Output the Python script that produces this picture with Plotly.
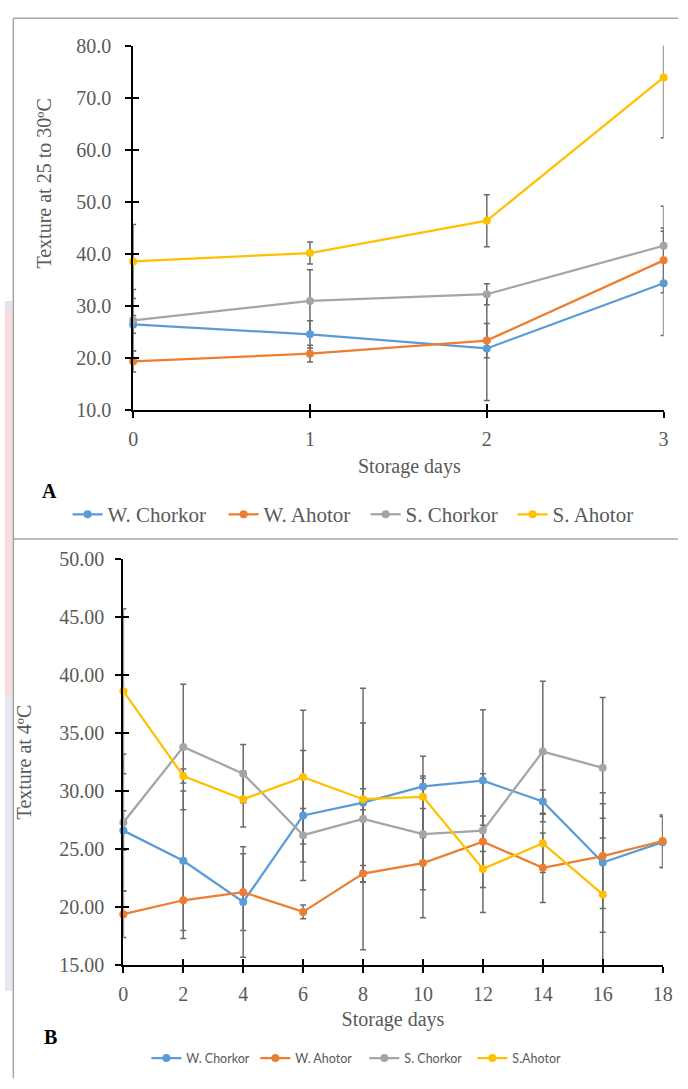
import plotly.graph_objects as go

W, H = 688, 1089

# ---------------- data ----------------
days_a = [0, 1, 2, 3]
names_a = ["W. Chorkor", "W. Ahotor", "S. Chorkor", "S. Ahotor"]
w_chorkor_a = [26.5, 24.6, 21.9, 34.4]
w_chorkor_a_err = [1.7, 2.6, 10.0, 10.0]
w_ahotor_a = [19.4, 20.9, 23.4, 38.8]
w_ahotor_a_err = [2.0, 1.6, 3.3, 6.2]
s_chorkor_a = [27.3, 31.0, 32.3, 41.6]
s_chorkor_a_err = [5.9, 6.0, 2.0, 7.6]
s_ahotor_a = [38.6, 40.2, 46.4, 73.9]
s_ahotor_a_err = [7.1, 2.1, 5.0, 11.6]

days_b = [0, 2, 4, 6, 8, 10, 12, 14, 16, 18]
names_b = ["W. Chorkor", "W. Ahotor", "S. Chorkor", "S.Ahotor"]
w_chorkor_b = [26.6, 24.0, 20.45, 27.9, 29.0, 30.4, 30.9, 29.1, 23.85, 25.6]
w_chorkor_b_err = [1.7, 6.0, 4.75, 5.6, 6.85, 0.9, 6.1, 1.0, 6.0, 2.2]
w_ahotor_b = [19.4, 20.6, 21.3, 19.6, 22.9, 23.8, 25.65, 23.4, 24.4, 25.7]
w_ahotor_b_err = [2.0, 3.3, 3.3, 0.6, 0.7, 4.7, 2.2, 3.0, 4.5, 2.25]
s_chorkor_b = [27.3, 33.8, 31.5, 26.2, 27.6, 26.3, 26.6, 33.4, 32.0]
s_chorkor_b_err = [5.9, 5.4, 2.5, 2.3, 11.25, 4.8, 4.9, 6.05, 6.05]
s_ahotor_b = [38.6, 31.3, 29.3, 31.2, 29.3, 29.5, 23.3, 25.5, 21.1]
s_ahotor_b_err = [7.1, 0.6, 2.4, 5.75, 0.9, 3.5, 3.75, 2.5, 6.55]

colors = ["#5B9BD5", "#ED7D31", "#A5A5A5", "#FFC000"]

yticks_a = [10, 20, 30, 40, 50, 60, 70, 80]
yticks_b = [15, 20, 25, 30, 35, 40, 45, 50]

# legend entry widths (px) so the entries spread like the original
legend_w_a = [111, 97, 102, 90]
legend_w_b = [64, 64, 63, 50]

# ---------------- helpers ----------------
def fx(p):
    return p / W

def fy(p):
    return 1 - p / H

SERIF = "Liberation Serif"
GRAY_TXT = "#595959"
ERR_COL = "#6a6a6a"
TITLE_FONT = dict(family=SERIF, size=20, color=GRAY_TXT)

fig = go.Figure()

panel_a = list(zip(names_a,
                   [w_chorkor_a, w_ahotor_a, s_chorkor_a, s_ahotor_a],
                   [w_chorkor_a_err, w_ahotor_a_err, s_chorkor_a_err, s_ahotor_a_err],
                   colors, legend_w_a))
panel_b = list(zip(names_b,
                   [w_chorkor_b, w_ahotor_b, s_chorkor_b, s_ahotor_b],
                   [w_chorkor_b_err, w_ahotor_b_err, s_chorkor_b_err, s_ahotor_b_err],
                   colors, legend_w_b))

# error bars (clipped to the plot area) on the main axes
for days, panel, xa, ya in [(days_a, panel_a, "x", "y"), (days_b, panel_b, "x2", "y2")]:
    for name, vals, errs, col, lw in panel:
        fig.add_trace(go.Scatter(
            x=days[:len(vals)], y=vals, mode="markers",
            marker=dict(size=2, color=col, opacity=0),
            error_y=dict(type="data", array=errs, visible=True, color=ERR_COL,
                         thickness=1.5, width=3),
            xaxis=xa, yaxis=ya, showlegend=False, hoverinfo="skip", cliponaxis=True))

# lines + markers on overlay axes (not clipped)
for days, panel, xa, ya, lg in [(days_a, panel_a, "x3", "y3", "legend"),
                                (days_b, panel_b, "x4", "y4", "legend2")]:
    for name, vals, errs, col, lw in panel:
        fig.add_trace(go.Scatter(
            x=days[:len(vals)], y=vals, mode="lines+markers", name=name,
            line=dict(color=col, width=2.25),
            marker=dict(color=col, size=8),
            xaxis=xa, yaxis=ya, legend=lg, legendwidth=lw, cliponaxis=False))

axis_common = dict(showgrid=False, zeroline=False, showline=True, linecolor="black",
                   linewidth=2, ticks="outside", ticklen=6, tickwidth=2, tickcolor="black",
                   tickfont=dict(family=SERIF, size=20, color=GRAY_TXT))
inside_common = dict(showgrid=False, zeroline=False, showline=False, ticks="inside",
                     ticklen=6, tickwidth=2, tickcolor="black", showticklabels=False)

xa_dom = [fx(131), fx(673.3)]
ya_dom = [fy(407.7), fy(35.3)]
xb_dom = [fx(121), fx(672.3)]
yb_dom = [fy(974), fy(559)]

fig.update_layout(
    width=W, height=H, margin=dict(l=0, r=0, t=0, b=0),
    paper_bgcolor="white", plot_bgcolor="rgba(0,0,0,0)",
    xaxis=dict(axis_common, domain=xa_dom, anchor="y", range=[0, 3],
               tickvals=days_a, ticklabelstandoff=4),
    yaxis=dict(axis_common, domain=ya_dom, anchor="x", range=[10, 80],
               tickvals=yticks_a, tickformat=".1f", ticklabelstandoff=10),
    xaxis2=dict(axis_common, domain=xb_dom, anchor="y2", range=[0, 18],
                tickvals=days_b, ticklabelstandoff=4,
                title=dict(text="Storage days", font=TITLE_FONT, standoff=8)),
    yaxis2=dict(axis_common, domain=yb_dom, anchor="x2", range=[15, 50],
                tickvals=yticks_b, tickformat=".2f", ticklabelstandoff=7,
                title=dict(text="Texture at 4ºC", font=TITLE_FONT, standoff=22)),
    xaxis3=dict(inside_common, overlaying="x", anchor="y3", range=[0, 3], tickvals=days_a),
    yaxis3=dict(inside_common, overlaying="y", anchor="x3", range=[10, 80], tickvals=yticks_a),
    xaxis4=dict(inside_common, overlaying="x2", anchor="y4", range=[0, 18], tickvals=days_b),
    yaxis4=dict(inside_common, overlaying="y2", anchor="x4", range=[15, 50], tickvals=yticks_b),
    legend=dict(orientation="h", x=fx(64), xanchor="left", y=fy(514), yanchor="middle",
                font=dict(family=SERIF, size=21, color=GRAY_TXT), bgcolor="rgba(0,0,0,0)",
                itemwidth=30, entrywidthmode="pixels"),
    legend2=dict(orientation="h", x=fx(144.5), xanchor="left", y=fy(1069), yanchor="middle",
                 font=dict(family="Lato", size=12.5, color=GRAY_TXT), bgcolor="rgba(0,0,0,0)",
                 itemwidth=30, entrywidthmode="pixels"),
    annotations=[
        # panel A axis titles (placed like the original, slightly off-centre)
        dict(text="Storage days", x=fx(414), y=fy(465), xref="paper", yref="paper",
             xanchor="center", yanchor="middle", showarrow=False, font=TITLE_FONT),
        dict(text="Texture at 25 to 30ºC", x=fx(40), y=fy(176), xref="paper", yref="paper",
             xanchor="center", yanchor="middle", textangle=-90, showarrow=False, font=TITLE_FONT),
        dict(text="<b>A</b>", x=fx(45), y=fy(490), xref="paper", yref="paper",
             xanchor="center", yanchor="middle",
             showarrow=False, font=dict(family=SERIF, size=20, color="black")),
        dict(text="<b>B</b>", x=fx(47), y=fy(1047), xref="paper", yref="paper",
             xanchor="center", yanchor="middle",
             showarrow=False, font=dict(family=SERIF, size=20, color="black")),
    ],
    shapes=[
        # faint watermark strip at the far left
        dict(type="rect", xref="paper", yref="paper", x0=0, x1=fx(8), y0=fy(305), y1=fy(296),
             fillcolor="#dfe3ec", line=dict(width=0), layer="below"),
        dict(type="rect", xref="paper", yref="paper", x0=0, x1=fx(8), y0=fy(700), y1=fy(305),
             fillcolor="#f9dde0", line=dict(width=0), layer="below"),
        dict(type="rect", xref="paper", yref="paper", x0=0, x1=fx(8), y0=fy(1000), y1=fy(700),
             fillcolor="#e6e8ef", line=dict(width=0), layer="below"),
        # frame lines
        dict(type="line", xref="paper", yref="paper", x0=fx(8.5), x1=1, y0=fy(7.5), y1=fy(7.5),
             line=dict(color="#a6a6a6", width=1.5)),
        dict(type="line", xref="paper", yref="paper", x0=fx(8.5), x1=fx(8.5), y0=fy(7.5), y1=0,
             line=dict(color="#a6a6a6", width=1.5)),
        dict(type="line", xref="paper", yref="paper", x0=fx(8.5), x1=1, y0=fy(539), y1=fy(539),
             line=dict(color="#a6a6a6", width=1.5)),
    ],
)

fig.write_html(
    "out.html",
    config={"displayModeBar": False},
    post_script="document.body.style.margin='0';document.body.style.overflow='hidden';"
                "document.documentElement.style.overflow='hidden';",
)
